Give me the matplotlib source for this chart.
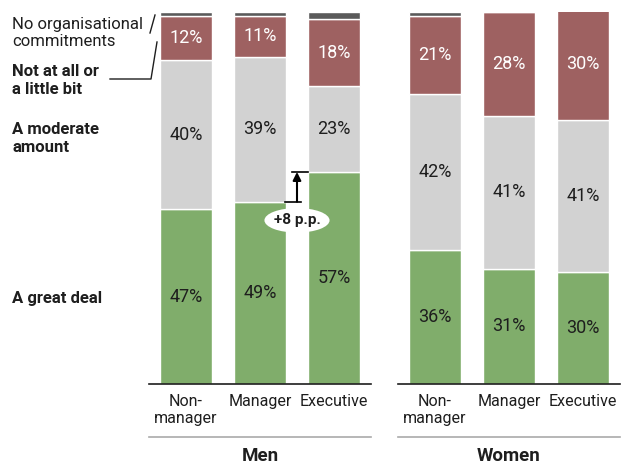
import matplotlib.pyplot as plt
import numpy as np
from matplotlib.patches import Ellipse
from matplotlib.lines import Line2D

plt.rcParams["font.family"] = ["Roboto", "DejaVu Sans"]

# Data (percent of respondents)
levels = ["Non-\nmanager", "Manager", "Executive"]
groups = ["Men", "Women"]
great_deal = {"Men": [47, 49, 57], "Women": [36, 31, 30]}
moderate = {"Men": [40, 39, 23], "Women": [42, 41, 41]}
little = {"Men": [12, 11, 18], "Women": [21, 28, 30]}
no_commit = {"Men": [1, 1, 2], "Women": [1, 0, 0]}

c_green = "#80ad6b"
c_grey = "#d2d2d2"
c_red = "#9e6161"
c_dark = "#5a5a5a"

W, H = 622, 466
fig = plt.figure(figsize=(W / 100, H / 100), dpi=100)

def fy(py):
    return 1 - py / H

ax_men = fig.add_axes([149 / W, fy(384), 222 / W, 372 / H])
ax_wom = fig.add_axes([398 / W, fy(384), 222 / W, 372 / H])

x = np.arange(3)
bw = 0.7
for ax, g in zip([ax_men, ax_wom], groups):
    b1 = np.array(great_deal[g])
    b2 = np.array(moderate[g])
    b3 = np.array(little[g])
    b4 = np.array(no_commit[g])
    ax.bar(x, b1, bw, color=c_green, edgecolor="white", linewidth=1)
    ax.bar(x, b2, bw, bottom=b1, color=c_grey, edgecolor="white", linewidth=1)
    ax.bar(x, b3, bw, bottom=b1 + b2, color=c_red, edgecolor="white", linewidth=1)
    ax.bar(x, b4, bw, bottom=b1 + b2 + b3, color=c_dark, edgecolor="white", linewidth=1)
    for i in range(3):
        ax.text(x[i], b1[i] / 2, f"{b1[i]}%", ha="center", va="center", fontsize=13, color="#1e1e1e")
        ax.text(x[i], b1[i] + b2[i] / 2, f"{b2[i]}%", ha="center", va="center", fontsize=13, color="#1e1e1e")
        ax.text(x[i], b1[i] + b2[i] + b3[i] / 2, f"{b3[i]}%", ha="center", va="center", fontsize=13, color="white")
    ax.set_xlim(-0.5, 2.5)
    ax.set_ylim(0, 100)
    ax.set_yticks([])
    ax.set_xticks(x)
    ax.set_xticklabels(levels, fontsize=11.5, color="#1e1e1e", va="top")
    ax.tick_params(axis="x", length=0, pad=7)
    for s in ["top", "right", "left"]:
        ax.spines[s].set_visible(False)
    ax.spines["bottom"].set_color("#1e1e1e")
    ax.spines["bottom"].set_linewidth(1.2)
    ax.add_line(Line2D([0, 1], [-0.1425, -0.1425], transform=ax.transAxes,
                       color="#aaaaaa", lw=1.2, clip_on=False))
    ax.text(0.5, -0.193, g, transform=ax.transAxes, ha="center", va="center",
            fontsize=13.5, fontweight="bold", color="#1e1e1e")

# +8 p.p. annotation between Manager and Executive (men)
lo = great_deal["Men"][1]
hi = great_deal["Men"][2]
ax_men.plot([1.34, 1.56], [lo, lo], color="black", lw=1.2, clip_on=False)
ax_men.plot([1.43, 1.65], [hi, hi], color="black", lw=1.2, clip_on=False)
ax_men.annotate("", xy=(1.5, hi), xytext=(1.5, lo),
                arrowprops=dict(arrowstyle="-|>", color="black", lw=1.5,
                                mutation_scale=12, shrinkA=0, shrinkB=0))
ax_men.add_patch(Ellipse((1.5, 44), 0.88, 6.6, facecolor="white", edgecolor="none", zorder=5))
ax_men.text(1.5, 44, f"+{hi - lo} p.p.", ha="center", va="center", fontsize=11,
            fontweight="bold", color="#1e1e1e", zorder=6)

# Legend labels on the left
fig.text(12 / W, fy(33), "No organisational\ncommitments", ha="left", va="center",
         fontsize=12, color="#1e1e1e", linespacing=1.25)
fig.text(12 / W, fy(80), "Not at all or\na little bit", ha="left", va="center",
         fontsize=12, fontweight="bold", color="#1e1e1e", linespacing=1.25)
fig.text(12 / W, fy(138), "A moderate\namount", ha="left", va="center",
         fontsize=12, fontweight="bold", color="#1e1e1e", linespacing=1.25)
fig.text(12 / W, fy(298), "A great deal", ha="left", va="center",
         fontsize=12, fontweight="bold", color="#1e1e1e")

leader = dict(transform=fig.transFigure, color="#1e1e1e", lw=1)
fig.add_artist(Line2D([155 / W, 150 / W], [fy(15), fy(33)], **leader))
fig.add_artist(Line2D([157 / W, 151 / W, 110 / W], [fy(42), fy(79), fy(79)], **leader))

fig.savefig("out.png", dpi=100)
